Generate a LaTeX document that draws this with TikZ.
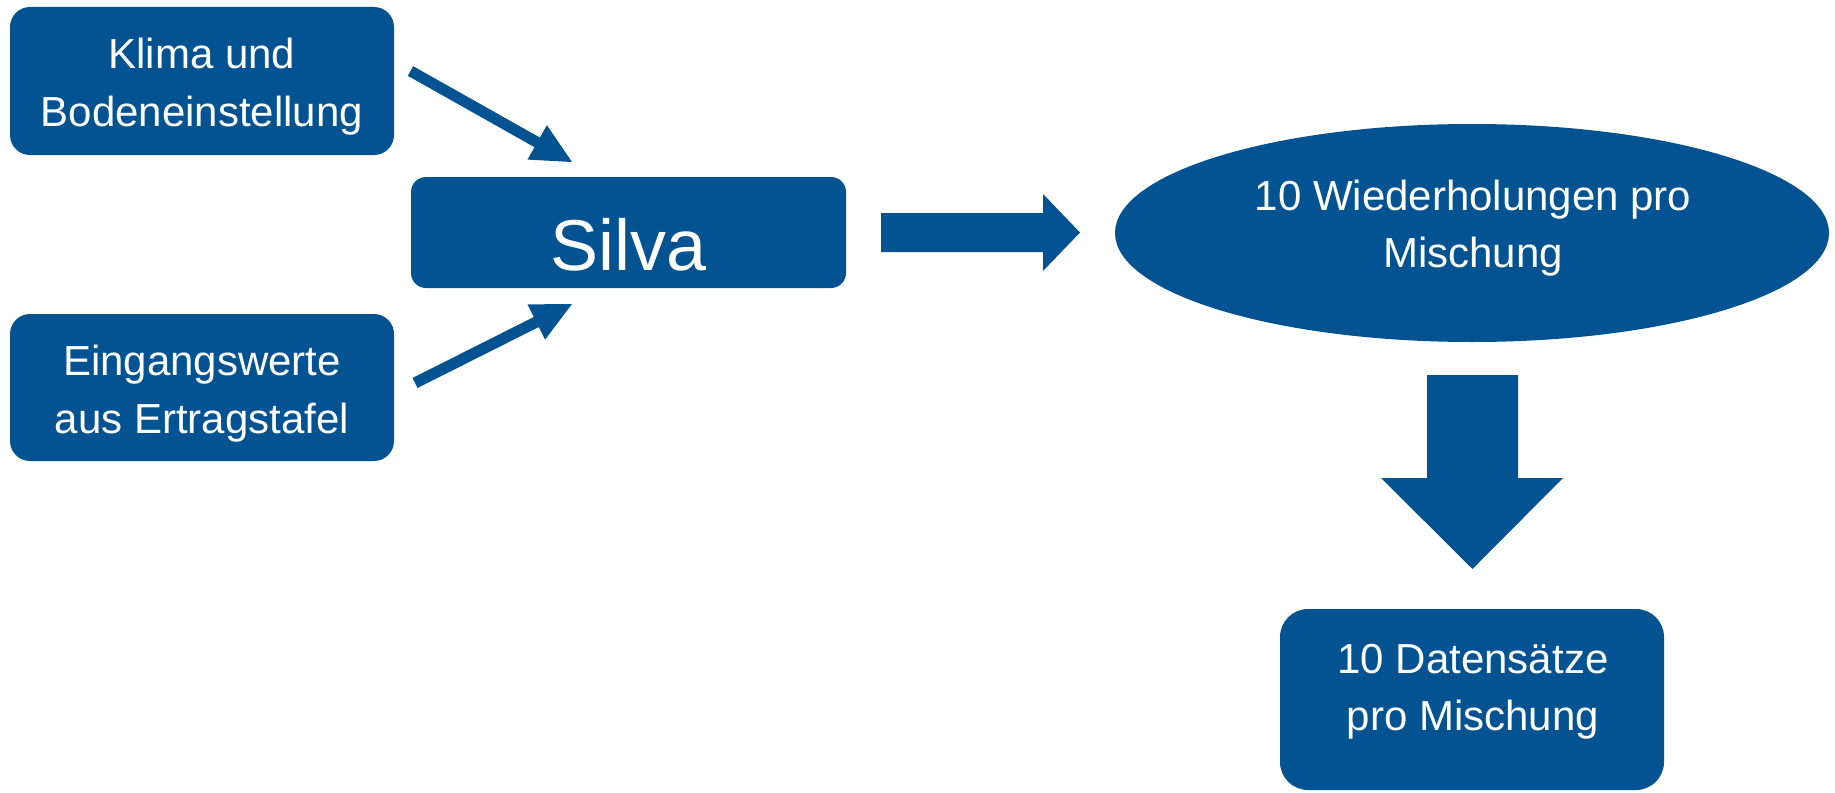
\documentclass[tikz,border=0pt]{standalone}
\usepackage{fontspec}
\setmainfont{Liberation Sans}
\usetikzlibrary{shapes.geometric}
\definecolor{uniblue}{RGB}{3,83,147}
\begin{document}
\begin{tikzpicture}[x=1pt,y=-1pt,
  blockbox/.style={fill=uniblue,draw=none,rounded corners=#1,inner sep=0pt},
  blockbox/.default=20pt,
  lbl/.style={text=white,anchor=base,inner sep=0pt,font=\fontsize{42}{50}\selectfont},
  blockarrow/.style={fill=uniblue,draw=none}]
\useasboundingbox (0,0) rectangle (1835,792);
% boxes
\node[blockbox=20pt,minimum width=384pt,minimum height=148pt] (klima) at (202,81) {};
\node[blockbox=20pt,minimum width=384pt,minimum height=147pt] (eingang) at (202,387.5) {};
\node[blockbox=15pt,minimum width=435pt,minimum height=111pt] (silva) at (628.5,232.5) {};
\node[fill=uniblue,draw=none,ellipse,inner sep=0pt,minimum width=714pt,minimum height=218pt] (wdh) at (1472,233) {};
\node[blockbox=28pt,minimum width=384pt,minimum height=181pt] (daten) at (1472,699.5) {};
% texts
\node[lbl] (k1) at (202,68) {Klima und};
\node[lbl] (k2) at (202,126) {Bodeneinstellung};
\node[lbl] (e1) at (202,375) {Eingangswerte};
\node[lbl] (e2) at (202,433) {aus Ertragstafel};
\node[lbl,font=\fontsize{72}{80}\selectfont] (s1) at (628.5,270) {Silva};
\node[lbl] (w1) at (1473,210) {10 Wiederholungen pro};
\node[lbl] (w2) at (1473,267) {Mischung};
\node[lbl] (d1) at (1473,673) {10 Datensätze};
\node[lbl] (d2) at (1473,730) {pro Mischung};
% block arrows
\fill[blockarrow] (413.2,66.2) -- (539.9,137.6) -- (546.9,125.2) -- (572,162) -- (527.5,159.6) -- (534.5,147.2) -- (407.8,75.8) -- cycle;
\fill[blockarrow] (412.5,378) -- (533.8,317) -- (527.5,304.4) -- (572,304) -- (545.1,339.6) -- (538.8,327) -- (417.5,388) -- cycle;
\fill[blockarrow] (881,213) -- (1043,213) -- (1043,194) -- (1080,232.5) -- (1043,271) -- (1043,252) -- (881,252) -- cycle;
\fill[blockarrow] (1427,375) -- (1518,375) -- (1518,478) -- (1563,478) -- (1472.5,569) -- (1381,478) -- (1427,478) -- cycle;
\end{tikzpicture}
\end{document}
